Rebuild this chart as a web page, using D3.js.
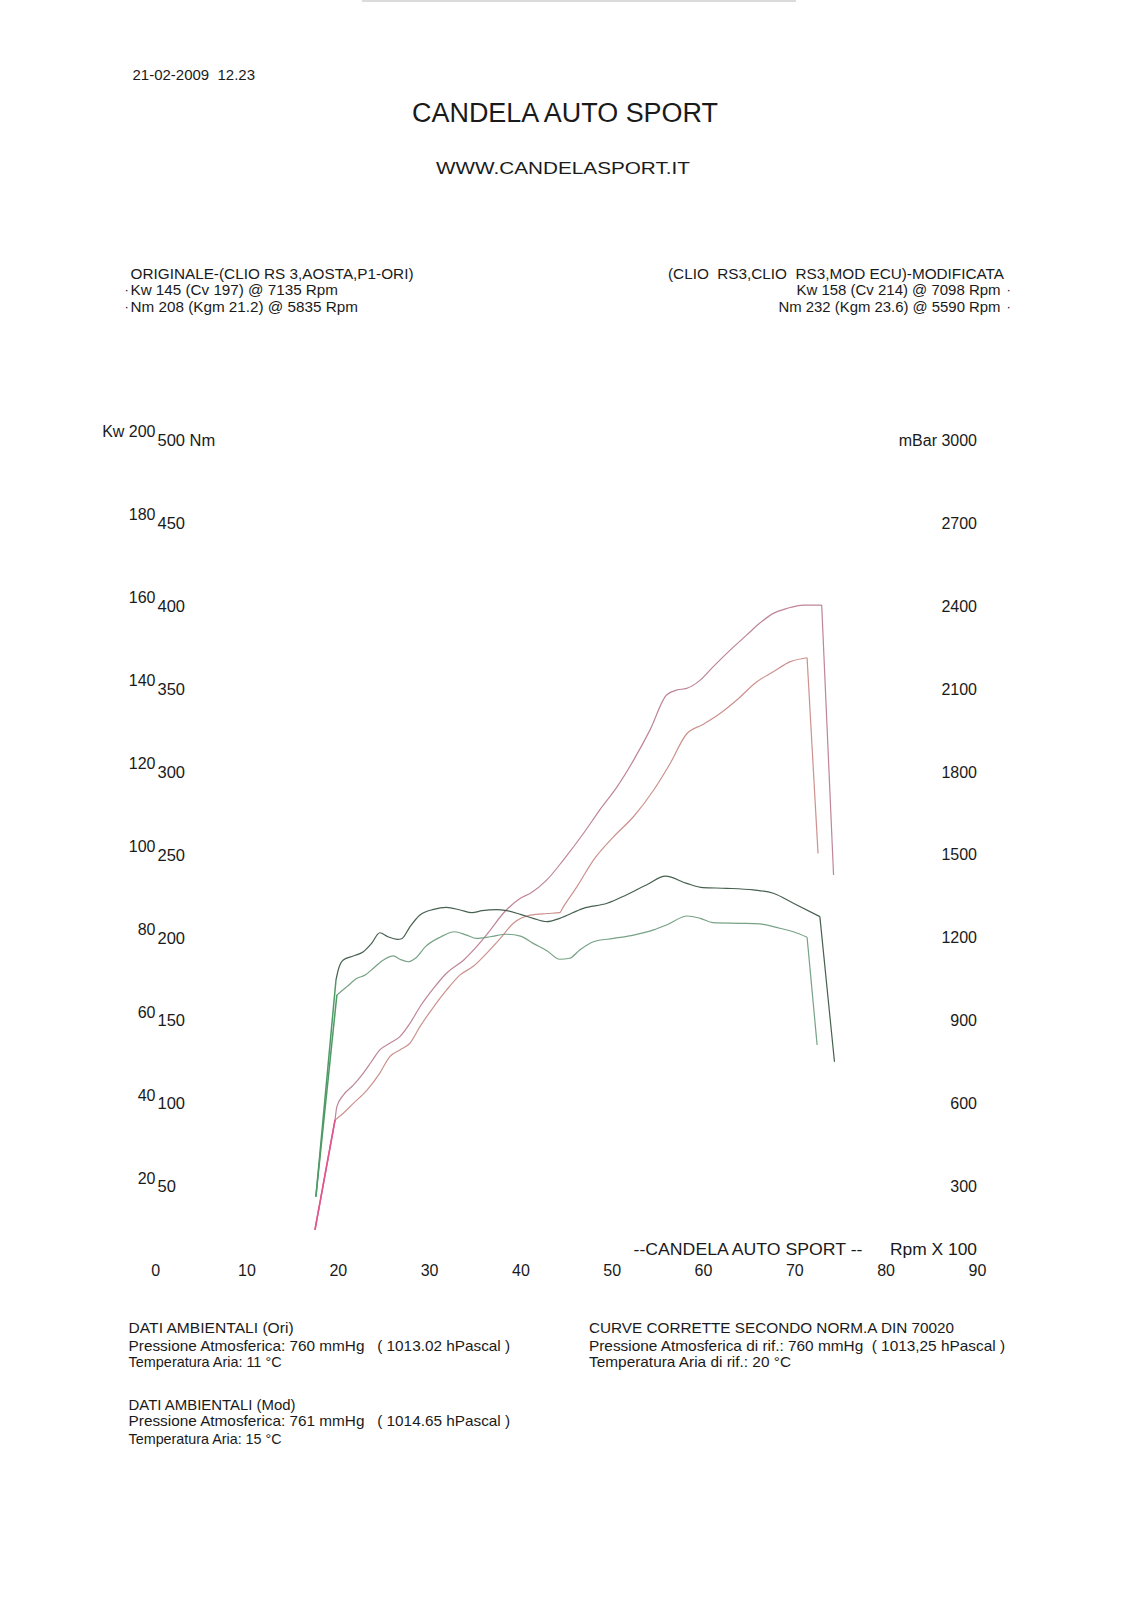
<!DOCTYPE html>
<html>
<head>
<meta charset="utf-8">
<script src="https://cdn.jsdelivr.net/npm/d3@7"></script>
<style>
  html, body { margin: 0; padding: 0; background: #fff; }
  svg { display: block; }
  text { font-family: "Liberation Sans", Arial, sans-serif; fill: #1a1a1a; white-space: pre; }
</style>
</head>
<body>
<script>
// ---------------- DATA ----------------
// RPM x 100 ticks and axis labels
const rpmTicks = [0, 10, 20, 30, 40, 50, 60, 70, 80, 90];
const kwTicks = [20, 40, 60, 80, 100, 120, 140, 160, 180, 200];
const nmTicks = [50, 100, 150, 200, 250, 300, 350, 400, 450, 500];
const mbarTicks = [300, 600, 900, 1200, 1500, 1800, 2100, 2400, 2700, 3000];

// Modified engine – power (Kw)
const modPowerRpm = [17.5, 19.7, 19.9, 20.6, 21.7, 22.8, 23.7, 24.6, 25.7, 26.8, 27.9, 29.0, 30.5, 31.9, 33.8, 35.2, 36.7, 38.1, 40.0, 41.1, 42.9, 44.7, 46.9, 48.7, 50.6, 52.4, 54.2, 56.0, 57.1, 58.2, 59.7, 61.1, 63.0, 64.8, 66.2, 67.7, 69.2, 71.0, 73.0, 74.3];
const modPowerKw = [7.5, 34.0, 37.2, 40.0, 42.4, 45.3, 48.1, 50.9, 52.5, 54.1, 57.3, 61.3, 65.8, 69.4, 72.6, 75.8, 79.8, 83.8, 87.5, 88.7, 91.9, 96.7, 103.1, 108.8, 114.4, 120.8, 128.1, 136.5, 137.7, 138.1, 140.1, 143.3, 147.4, 151.0, 153.8, 156.2, 157.4, 158.2, 158.2, 93.1];

// Original engine – power (Kw)
const oriPowerRpm = [17.5, 19.7, 20.6, 21.7, 23.2, 24.6, 25.7, 26.8, 27.9, 29.0, 30.5, 31.9, 33.4, 34.8, 36.3, 37.8, 39.2, 41.1, 42.9, 44.3, 44.7, 46.2, 48.0, 50.2, 52.4, 54.6, 56.4, 58.2, 60.0, 61.9, 63.7, 65.9, 67.7, 69.5, 71.4, 72.6];
const oriPowerKw = [7.5, 34.0, 35.6, 38.0, 41.2, 45.3, 49.3, 50.9, 52.5, 56.5, 61.3, 65.3, 69.0, 71.0, 74.2, 77.8, 81.4, 83.4, 83.8, 84.0, 85.4, 90.3, 96.7, 102.3, 107.2, 113.6, 120.0, 127.1, 129.4, 132.1, 135.3, 139.7, 142.1, 144.5, 145.5, 98.3];

// Modified engine – torque (Nm)
const modTorqueRpm = [17.6, 19.8, 20.1, 20.6, 21.7, 22.8, 23.7, 24.6, 25.5, 26.5, 27.0, 27.9, 29.0, 30.5, 31.9, 33.4, 34.7, 35.8, 37.4, 38.5, 40.0, 41.4, 42.9, 44.3, 46.9, 49.5, 51.6, 53.8, 55.9, 58.2, 60.0, 62.6, 65.5, 67.7, 69.9, 72.8, 74.4];
const modTorqueNm = [38.7, 169.4, 176.5, 181.5, 183.9, 186.5, 191.5, 197.9, 195.5, 193.9, 194.3, 201.5, 208.6, 212.0, 213.2, 211.6, 210.0, 211.2, 211.9, 211.2, 209.0, 206.6, 204.6, 206.6, 212.6, 215.7, 220.7, 226.7, 232.0, 227.7, 225.1, 224.7, 223.7, 221.7, 215.7, 207.6, 120.1];

// Original engine – torque (Nm)
const oriTorqueRpm = [17.6, 19.9, 21.0, 22.1, 23.0, 23.9, 25.0, 26.1, 26.8, 27.7, 28.5, 29.6, 31.2, 32.8, 34.1, 35.2, 36.7, 38.5, 40.0, 41.4, 42.9, 44.3, 45.4, 46.5, 48.0, 50.2, 52.4, 54.6, 56.0, 58.3, 59.7, 61.1, 64.1, 66.2, 68.4, 69.9, 71.4, 72.5];
const oriTorqueNm = [38.7, 160.4, 165.4, 170.4, 172.4, 176.5, 181.5, 183.9, 181.9, 180.4, 182.5, 189.5, 195.2, 198.5, 196.5, 194.5, 195.5, 197.0, 195.9, 191.5, 187.1, 181.9, 182.5, 187.5, 192.5, 194.5, 196.5, 199.6, 202.6, 208.0, 206.6, 204.0, 203.6, 203.2, 200.6, 198.5, 195.2, 130.2];

// ---------------- CHART ----------------
const W = 1131, H = 1600;
const svg = d3.select("body").append("svg").attr("width", W).attr("height", H);
svg.append("rect").attr("width", W).attr("height", H).attr("fill", "#fff");

// faint scan edge at the top
svg.append("line").attr("x1", 362).attr("x2", 796).attr("y1", 1).attr("y2", 1)
  .attr("stroke", "#b8b8b8").attr("stroke-width", 1.2);

const FONT = '"Liberation Sans", Arial, sans-serif';

const x = d3.scaleLinear().domain([0, 90]).range([155.2, 976.9]);
const yKw = d3.scaleLinear().domain([0, 200]).range([1260.9, 431.8]);
const yNm = d3.scaleLinear().domain([0, 500]).range([1260.9, 431.8]);
const yMbar = d3.scaleLinear().domain([0, 3000]).range([1260.9, 431.8]);

function styleAxis(g, size) {
  g.attr("font-family", FONT).attr("font-size", size);
  g.select(".domain").remove();
  g.selectAll(".tick line").remove();
  g.selectAll("text").attr("fill", "#1a1a1a");
}

// Kw axis (left, raised)
svg.append("g").attr("transform", "translate(155.5,0)")
  .call(d3.axisLeft(yKw).tickValues(kwTicks).tickSize(0).tickPadding(0)
    .tickFormat(d => d === 200 ? "Kw 200" : String(d)))
  .call(g => styleAxis(g, 16));

// Nm axis (left, lowered)
svg.append("g").attr("transform", "translate(157.5,8.5)")
  .call(d3.axisRight(yNm).tickValues(nmTicks).tickSize(0).tickPadding(0)
    .tickFormat(d => d === 500 ? "500 Nm" : String(d)))
  .call(g => styleAxis(g, 16.5));

// mBar axis (right)
svg.append("g").attr("transform", "translate(977,8.5)")
  .call(d3.axisLeft(yMbar).tickValues(mbarTicks).tickSize(0).tickPadding(0)
    .tickFormat(d => d === 3000 ? "mBar 3000" : String(d)))
  .call(g => styleAxis(g, 16));

// RPM axis (bottom)
svg.append("g").attr("transform", "translate(0,1265)")
  .call(d3.axisBottom(x).tickValues(rpmTicks).tickSize(0).tickPadding(0))
  .call(g => styleAxis(g, 16));

// ---------------- CURVES ----------------
function zipData(xs, ys) { return xs.map((v, i) => [v, ys[i]]); }
const linePow = d3.line().x(d => x(d[0])).y(d => yKw(d[1])).curve(d3.curveMonotoneX);
const lineTq = d3.line().x(d => x(d[0])).y(d => yNm(d[1])).curve(d3.curveMonotoneX);
const lineStraight = d3.line();

const series = [
  { data: zipData(oriPowerRpm, oriPowerKw), gen: linePow, sy: yKw, color: "#cc928e", start: "#e0578c" },
  { data: zipData(modPowerRpm, modPowerKw), gen: linePow, sy: yKw, color: "#bf8598", start: "#e0578c" },
  { data: zipData(oriTorqueRpm, oriTorqueNm), gen: lineTq, sy: yNm, color: "#77a286", start: "#4f9a66" },
  { data: zipData(modTorqueRpm, modTorqueNm), gen: lineTq, sy: yNm, color: "#46614f", start: "#4f9a66" }
];

series.forEach(s => {
  const n = s.data.length;
  const body = s.data.slice(1, n - 1);
  // start-up rise (straight), smooth body, straight final drop
  const pts = d => [x(d[0]), s.sy(d[1])];
  svg.append("path").attr("d", s.gen(body)).attr("fill", "none")
    .attr("stroke", s.color).attr("stroke-width", 1.2).attr("stroke-linejoin", "round");
  svg.append("path").attr("d", lineStraight([pts(s.data[n - 2]), pts(s.data[n - 1])])).attr("fill", "none")
    .attr("stroke", s.color).attr("stroke-width", 1.2);
  svg.append("path").attr("d", lineStraight([pts(s.data[0]), pts(s.data[1])])).attr("fill", "none")
    .attr("stroke", s.start).attr("stroke-width", 1.5);
});

// ---------------- TEXTS ----------------
function txt(str, xx, yy, size, opts = {}) {
  const t = svg.append("text").attr("x", xx).attr("y", yy).attr("dy", "0.35em")
    .attr("font-size", size).attr("font-family", FONT)
    .attr("text-anchor", opts.anchor || "start").text(str);
  if (opts.len) t.attr("textLength", opts.len).attr("lengthAdjust", "spacingAndGlyphs");
  return t;
}

txt("21-02-2009  12.23", 132.5, 74.5, 15, { len: 122.5 });
txt("CANDELA AUTO SPORT", 565, 112.3, 27, { anchor: "middle", len: 306 });
txt("WWW.CANDELASPORT.IT", 563, 168.4, 17, { anchor: "middle", len: 254 });

// left annotation (original)
txt("ORIGINALE-(CLIO RS 3,AOSTA,P1-ORI)", 130.5, 273.6, 15.5, { len: 283 });
txt("·", 124.5, 289.9, 13);
txt("Kw 145 (Cv 197) @ 7135 Rpm", 130.5, 289.9, 15.5, { len: 207.5 });
txt("·", 124.5, 306.2, 13);
txt("Nm 208 (Kgm 21.2) @ 5835 Rpm", 130.5, 306.2, 15.5, { len: 227.5 });

// right annotation (modified)
txt("(CLIO  RS3,CLIO  RS3,MOD ECU)-MODIFICATA", 1004, 273.6, 15.5, { anchor: "end", len: 336 });
txt("Kw 158 (Cv 214) @ 7098 Rpm", 1000.5, 289.9, 15.5, { anchor: "end", len: 204 });
txt("·", 1006.5, 289.9, 13);
txt("Nm 232 (Kgm 23.6) @ 5590 Rpm", 1000.5, 306.2, 15.5, { anchor: "end", len: 222 });
txt("·", 1006.5, 306.2, 13);

// bottom-axis captions
txt("--CANDELA AUTO SPORT --", 748, 1249.5, 16.5, { anchor: "middle", len: 229 });
txt("Rpm X 100", 977, 1249.5, 16.5, { anchor: "end", len: 87 });

// ambient data
txt("DATI AMBIENTALI (Ori)", 128.6, 1328, 15, { len: 165 });
txt("Pressione Atmosferica: 760 mmHg   ( 1013.02 hPascal )", 128.6, 1345.4, 15, { len: 381.5 });
txt("Temperatura Aria: 11 °C", 128.6, 1361.8, 15, { len: 153 });

txt("CURVE CORRETTE SECONDO NORM.A DIN 70020", 589, 1328, 15, { len: 365 });
txt("Pressione Atmosferica di rif.: 760 mmHg  ( 1013,25 hPascal )", 589, 1345.4, 15, { len: 416 });
txt("Temperatura Aria di rif.: 20 °C", 589, 1361.8, 15, { len: 202 });

txt("DATI AMBIENTALI (Mod)", 128.6, 1404.6, 15, { len: 167 });
txt("Pressione Atmosferica: 761 mmHg   ( 1014.65 hPascal )", 128.6, 1421, 15, { len: 381.5 });
txt("Temperatura Aria: 15 °C", 128.6, 1438.3, 15, { len: 153 });
</script>
</body>
</html>
